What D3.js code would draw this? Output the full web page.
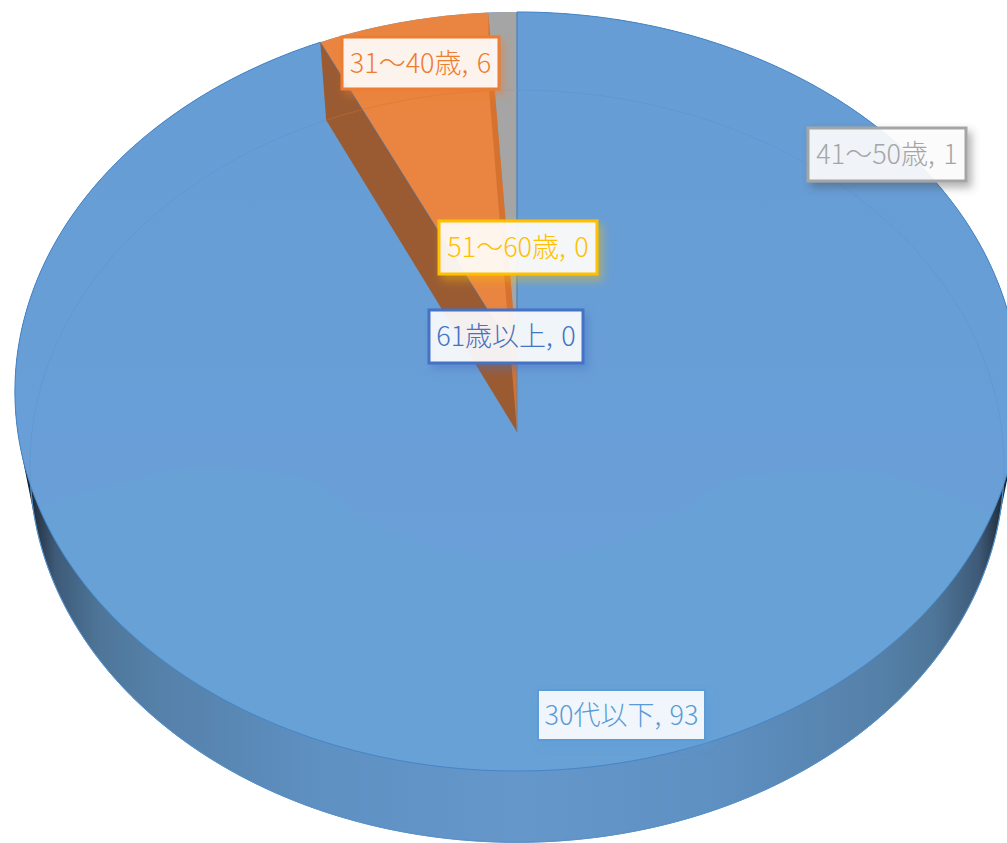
<!DOCTYPE html>
<html>
<head>
<meta charset="utf-8">
<script src="https://cdn.jsdelivr.net/npm/d3@7"></script>
<style>
  html, body { margin: 0; padding: 0; background: #fff; }
  svg { display: block; }
  .label-text { font-family: "Noto Sans CJK JP", "Noto Sans", sans-serif; font-weight: 300; font-size: 27px; word-spacing: 2.5px; text-anchor: middle; dominant-baseline: central; }
</style>
</head>
<body>
<div id="chart"></div>
<script>
// values
const categories = ['30代以下', '31～40歳', '41～50歳', '51～60歳', '61歳以上'];
const shares = [93, 6, 1, 0, 0];

const sliceColors = ['#67a1d6', '#e98540', '#a5a5a5', '#ffc000', '#4472c4'];
const labelColors = ['#5b9bd5', '#ed7d31', '#a5a5a5', '#ffc000', '#4472c4'];
const wallColors = ['#4f7fae', '#9a5b33', '#8f8f8f', '#ffc000', '#4472c4'];
// label boxes were placed by hand in the original: [left, top, width, height]
const labelBoxes = [
  [538, 690, 167, 50],
  [342, 37, 157, 52],
  [808, 128, 158, 53],
  [439, 221, 158, 53],
  [429, 310, 154, 53]
];
// soft lighting edge on the big slice, purely cosmetic
const sheenEdge = [[0, 525], [33, 510], [120, 484], [200, 467], [300, 477], [367, 520], [517, 560],
  [667, 520], [740, 477], [850, 470], [983, 510], [1020, 525]];

const width = 1007, height = 843;

// perspective of the tilted disc, top face and bottom face
const tilt = 0.0909;
const topFace = {cx: 517, cy: 357, rx: 500, ry: 376.4};
const bottomFace = {cx: 517, cy: 432, rx: 485, ry: 373};

// angle measured clockwise from 12 o'clock, r from 0 to 1
function project(face, angle, r) {
  const u = r * Math.sin(angle), v = r * Math.cos(angle);
  const w = 1 + tilt * v;
  return [face.cx + face.rx * u / w, face.cy - face.ry * v / w];
}

function rimPoints(face, a0, a1) {
  const n = Math.max(2, Math.ceil((a1 - a0) / 0.01));
  return d3.range(n + 1).map(i => project(face, a0 + (a1 - a0) * i / n, 1));
}

const line = d3.line();
const closed = pts => line(pts) + 'Z';
const sectorPath = (face, d) => closed([project(face, 0, 0), ...rimPoints(face, d.startAngle, d.endAngle)]);
const wallPath = (angle) => closed([
  project(topFace, angle, 0), project(topFace, angle, 1),
  project(bottomFace, angle, 1), project(bottomFace, angle, 0)
]);

const pie = d3.pie().sort(null).value(d => d)(shares);
const visible = pie.filter(d => d.value > 0);

const svg = d3.select('#chart').append('svg')
    .attr('width', width)
    .attr('height', height);

const defs = svg.append('defs');

// outside wall goes dark at both ends
const wallGrad = defs.append('linearGradient')
    .attr('id', 'wallGrad')
    .attr('gradientUnits', 'userSpaceOnUse')
    .attr('x1', 15).attr('x2', 1019).attr('y1', 0).attr('y2', 0);
[[0, '#0c1118'], [0.012, '#161e28'], [0.022, '#27384a'], [0.04, '#3e5a78'], [0.085, '#4e7699'], [0.14, '#5580a8'],
 [0.3, '#5e90c2'], [0.5, '#6597cb'], [0.7, '#5e90c2'], [0.86, '#5580a8'], [0.915, '#4e7699'], [0.96, '#3e5a78'],
 [0.978, '#27384a'], [0.988, '#161e28'], [1, '#0c1118']]
  .forEach(s => wallGrad.append('stop').attr('offset', s[0]).attr('stop-color', s[1]));

const upperGrad = defs.append('linearGradient')
    .attr('id', 'upperGrad')
    .attr('gradientUnits', 'userSpaceOnUse')
    .attr('x1', 0).attr('x2', 0).attr('y1', 12).attr('y2', 560);
[[0, '#659dd4'], [1, '#6a9fd8']]
  .forEach(s => upperGrad.append('stop').attr('offset', s[0]).attr('stop-color', s[1]));

labelColors.forEach((c, i) => {
  defs.append('filter')
      .attr('id', `shadow${i}`)
      .attr('x', '-20%').attr('y', '-30%').attr('width', '140%').attr('height', '170%')
    .append('feDropShadow')
      .attr('dx', 4).attr('dy', 5).attr('stdDeviation', 4)
      .attr('flood-color', c === labelColors[2] ? '#444' : c)
      .attr('flood-opacity', 0.45);
});

defs.append('clipPath')
    .attr('id', 'bigSlice')
  .append('path')
    .attr('d', sectorPath(topFace, pie[0]));

// silhouette of the whole disc: hull of both rims
const fullTurn = Math.PI * 2;
const hull = d3.polygonHull([...rimPoints(topFace, 0, fullTurn), ...rimPoints(bottomFace, 0, fullTurn)]);
svg.append('path')
    .attr('class', 'disc-wall')
    .attr('d', closed(hull))
    .attr('fill', 'url(#wallGrad)');

// bottom rim line of the wall
svg.append('path')
    .attr('d', closed(rimPoints(bottomFace, 0, fullTurn)))
    .attr('fill', 'none')
    .attr('stroke', '#4a86c0')
    .attr('stroke-width', 1);

// top faces
svg.selectAll('.slice-top')
  .data(visible)
  .join('path')
    .attr('class', 'slice-top')
    .attr('d', d => sectorPath(topFace, d))
    .attr('fill', d => sliceColors[d.index]);

// upper part of the big slice is slightly more violet
const sheen = d3.line().curve(d3.curveMonotoneX)(sheenEdge);
svg.append('path')
    .attr('class', 'sheen')
    .attr('clip-path', 'url(#bigSlice)')
    .attr('d', `${sheen}L${width + 20},0L-10,0Z`)
    .attr('fill', 'url(#upperGrad)');

svg.append('path')
    .attr('class', 'slice-edge')
    .attr('d', sectorPath(topFace, pie[0]))
    .attr('fill', 'none')
    .attr('stroke', '#4585c6')
    .attr('stroke-width', 1);

// cut walls of the orange slice, seen through the face
svg.append('path')
    .attr('class', 'wall-left')
    .attr('d', wallPath(pie[1].startAngle))
    .attr('fill', wallColors[1]);
svg.append('path')
    .attr('class', 'wall-right')
    .attr('d', wallPath(pie[1].endAngle))
    .attr('fill', '#d5722f');

// wall between gray and blue is seen edge on
svg.append('path')
    .attr('d', line([project(topFace, 0, 1), project(bottomFace, 0, 0)]))
    .attr('stroke', '#5e87ad')
    .attr('stroke-width', 1)
    .attr('fill', 'none');

// bottom rim shows faintly through the faces
svg.selectAll('.slice-ghost')
  .data(visible)
  .join('path')
    .attr('class', 'slice-ghost')
    .attr('d', d => line(rimPoints(bottomFace, d.startAngle, d.endAngle)))
    .attr('fill', 'none')
    .attr('stroke', d => d.index === 1 ? '#d5722f' : d.index === 2 ? '#999' : '#5b97d0')
    .attr('stroke-width', 1)
    .attr('stroke-opacity', d => d.index === 0 ? 0.7 : 0.45);

// labels
const labels = svg.selectAll('.label')
  .data(categories.map((c, i) => ({name: c, value: shares[i], i})))
  .join('g')
    .attr('class', 'label');

labels.append('rect')
    .attr('x', d => labelBoxes[d.i][0])
    .attr('y', d => labelBoxes[d.i][1])
    .attr('width', d => labelBoxes[d.i][2])
    .attr('height', d => labelBoxes[d.i][3])
    .attr('fill', '#fff')
    .attr('fill-opacity', 0.89)
    .attr('stroke', d => labelColors[d.i])
    .attr('stroke-width', d => d.i === 0 ? 2 : 3)
    .attr('filter', d => `url(#shadow${d.i})`);

labels.append('text')
    .attr('class', 'label-text')
    .attr('x', d => labelBoxes[d.i][0] + labelBoxes[d.i][2] / 2)
    .attr('y', d => labelBoxes[d.i][1] + labelBoxes[d.i][3] / 2 - 2)
    .attr('fill', d => labelColors[d.i])
    .text(d => `${d.name}, ${d.value}`);
</script>
</body>
</html>
